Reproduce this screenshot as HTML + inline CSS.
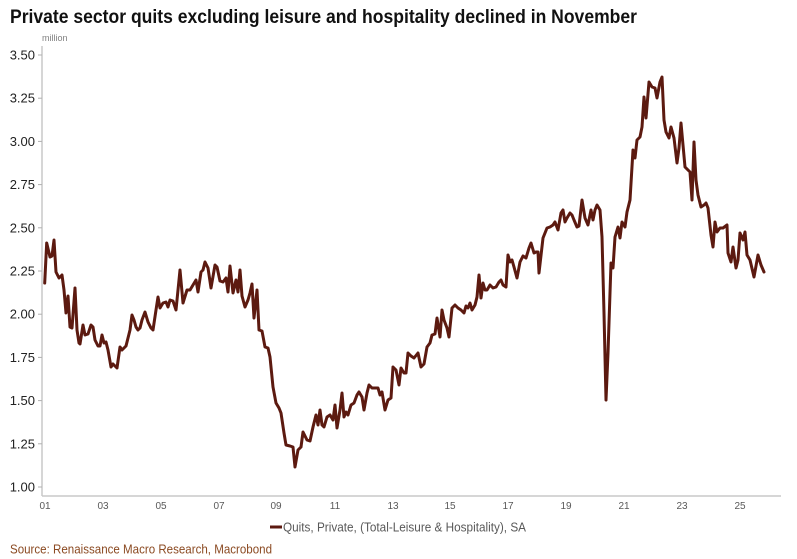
<!DOCTYPE html>
<html>
<head>
<meta charset="utf-8">
<style>
  html,body{margin:0;padding:0;background:#fff;}
  svg{display:block;}
  text{font-family:"Liberation Sans",sans-serif;}
</style>
</head>
<body>
<svg width="797" height="559" viewBox="0 0 797 559" xmlns="http://www.w3.org/2000/svg">
  <rect width="797" height="559" fill="#fff"/>
  <text x="10" y="23" font-size="19" font-weight="bold" fill="#111" textLength="627" lengthAdjust="spacingAndGlyphs">Private sector quits excluding leisure and hospitality declined in November</text>
  <text x="42" y="41" font-size="9" fill="#808080">million</text>

  <!-- axes -->
  <line x1="42" y1="46" x2="42" y2="496" stroke="#c8c8c8" stroke-width="1.5"/>
  <line x1="42" y1="496" x2="781" y2="496" stroke="#c8c8c8" stroke-width="1.5"/>

  <g stroke="#b0b0b0" stroke-width="1">
    <line x1="38" y1="55" x2="42" y2="55"/>
    <line x1="38" y1="98.2" x2="42" y2="98.2"/>
    <line x1="38" y1="141.4" x2="42" y2="141.4"/>
    <line x1="38" y1="184.6" x2="42" y2="184.6"/>
    <line x1="38" y1="227.8" x2="42" y2="227.8"/>
    <line x1="38" y1="271" x2="42" y2="271"/>
    <line x1="38" y1="314.2" x2="42" y2="314.2"/>
    <line x1="38" y1="357.4" x2="42" y2="357.4"/>
    <line x1="38" y1="400.6" x2="42" y2="400.6"/>
    <line x1="38" y1="443.8" x2="42" y2="443.8"/>
    <line x1="38" y1="487" x2="42" y2="487"/>
  </g>
  <g font-size="13" fill="#222" text-anchor="end">
    <text x="35" y="59.5">3.50</text>
    <text x="35" y="102.7">3.25</text>
    <text x="35" y="145.9">3.00</text>
    <text x="35" y="189.1">2.75</text>
    <text x="35" y="232.3">2.50</text>
    <text x="35" y="275.5">2.25</text>
    <text x="35" y="318.7">2.00</text>
    <text x="35" y="361.9">1.75</text>
    <text x="35" y="405.1">1.50</text>
    <text x="35" y="448.3">1.25</text>
    <text x="35" y="491.5">1.00</text>
  </g>
  <g font-size="10" fill="#595959" text-anchor="middle">
    <text x="45" y="509">01</text>
    <text x="103" y="509">03</text>
    <text x="161" y="509">05</text>
    <text x="219" y="509">07</text>
    <text x="276" y="509">09</text>
    <text x="335" y="509">11</text>
    <text x="393" y="509">13</text>
    <text x="450" y="509">15</text>
    <text x="508" y="509">17</text>
    <text x="566" y="509">19</text>
    <text x="624" y="509">21</text>
    <text x="682" y="509">23</text>
    <text x="740" y="509">25</text>
  </g>

  <polyline fill="none" stroke="#5c1a10" stroke-width="3" stroke-linejoin="round" stroke-linecap="round" points="
44.7,283 46.7,243 50,257 52,256 54,240 56,272 59,278 62,275 64,290 66,313 68,296 70,327 72,328 75,288 77,330 79,343 80,344 83,325 85,335 88,334 91,325 93,327 95,340 98,346 100,346 102,335 104,343 106,342 108,350 111,367 113,364 115,366 117,368 120,347 122,350 124,348 126,346 130,330 132,315 134,320 136,327 138,330 140,328 142,320 145,312 148,322 151,328 153,330 156,310 158,297 160,308 163,303 166,302 168,307 170,300 173,301 176,310 180,270 183,303 187,290 190,290 193,285 196,280 198,292 201,272 203,270 205,262 208,268 211,288 215,265 217,267 220,281 223,282 226,278 228,292 230,266 233,293 236,280 238,292 240,270 242,296 245,307 248,300 250,293 252,284 254,318 257,290 259,330 262,331 265,347 268,348 270,357 273,387 276,403 279,408 281,413 284,433 286,445 290,446 293,447 295,467 298,450 301,447 303,432 307,440 310,441 313,427 316,415 318,425 320,410 322,425 324,427 327,417 330,415 333,420 335,405 337,428 340,410 342,393 344,417 346,412 348,415 351,405 354,403 357,395 359,392 362,397 364,410 367,393 369,385 372,388 375,388 378,388 380,395 382,392 385,410 388,400 391,398 393,367 396,370 399,385 401,368 404,373 406,373 408,353 411,356 414,358 418,353 421,367 424,364 427,347 430,343 432,335 435,334 437,318 440,337 442,310 444,320 447,328 449,337 452,308 455,305 458,308 461,310 464,313 466,306 468,308 470,303 472,310 475,305 477,297 479,275 481,298 483,283 485,290 487,290 490,285 493,288 496,287 499,282 501,280 503,285 506,287 508,255 510,262 512,260 514,267 517,278 520,262 523,256 526,258 529,248 531,243 534,253 536,252 538,252 539,273 543,238 547,228 550,227 553,225 555,222 558,230 561,213 563,210 565,222 567,218 570,213 572,215 574,220 577,227 579,226 582,200 585,218 588,225 591,210 593,220 595,210 597,205 600,210 602,237 604,313 606,400 608,353 611,263 613,268 615,237 618,227 620,238 622,222 625,227 627,212 630,200 633,150 635,158 637,140 640,137 642,127 644,97 646,118 649,82 652,87 655,88 657,98 660,82 662,77 664,120 666,132 669,138 671,127 674,138 677,163 679,148 681,123 683,145 685,167 688,170 690,172 692,200 694,142 696,180 698,195 701,207 704,205 706,203 708,208 711,235 713,247 715,222 717,232 720,228 723,228 727,225 728,253 731,262 733,247 736,268 738,260 740,233 743,240 745,232 747,255 750,260 754,277 758,255 761,265 764,272"/>

  <!-- legend -->
  <line x1="270" y1="527" x2="282" y2="527" stroke="#5c1a10" stroke-width="3"/>
  <text x="283" y="531.5" font-size="13" fill="#595959" textLength="243" lengthAdjust="spacingAndGlyphs">Quits, Private, (Total-Leisure &amp; Hospitality), SA</text>

  <!-- source -->
  <text x="10" y="553.5" font-size="13" fill="#8b4a22" textLength="262" lengthAdjust="spacingAndGlyphs">Source: Renaissance Macro Research, Macrobond</text>
</svg>
</body>
</html>
